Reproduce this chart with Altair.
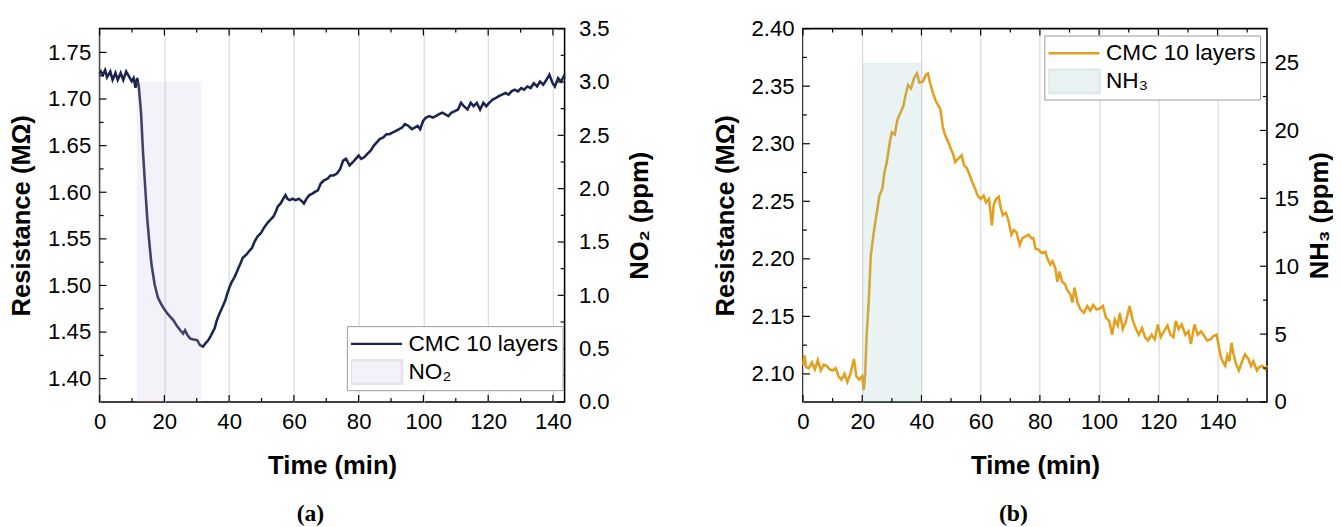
import altair as alt
import pandas as pd

# ---------------- Panel (a): NO2 exposure ----------------
time_a = [0.0, 0.4, 1.0, 1.7, 2.3, 3.3, 4.0, 4.9, 5.6, 6.5, 7.3, 8.2, 9.1, 9.9, 10.5, 11.1, 11.6, 12.1,
          12.8, 13.4, 14.1, 14.7, 15.4, 16.0, 17.0, 18.0, 19.0, 19.9, 20.9, 21.9, 22.8, 23.8, 24.9, 25.8,
          26.4, 27.1, 28.0, 29.0, 30.1, 31.0, 31.9, 32.7, 33.6, 34.2, 34.9, 35.5, 36.2, 36.8, 37.7, 38.8,
          39.4, 40.1, 40.7, 41.6, 42.3, 42.9, 43.6, 44.2, 45.3, 46.2, 47.0, 47.9, 48.8, 49.8, 50.7, 51.8,
          52.7, 53.7, 54.4, 55.0, 55.9, 56.7, 57.4, 58.0, 58.7, 59.6, 60.5, 61.5, 62.6, 63.1, 63.9, 64.8,
          65.7, 66.5, 67.4, 68.3, 69.3, 70.4, 71.3, 72.2, 73.3, 74.3, 75.2, 76.1, 77.2, 78.2, 79.1, 80.0,
          80.8, 81.7, 82.6, 83.7, 84.7, 85.6, 86.5, 87.6, 88.6, 89.5, 90.4, 91.5, 92.5, 93.4, 94.3, 95.4,
          96.4, 97.3, 98.2, 99.0, 99.9, 100.8, 101.9, 102.9, 103.8, 104.7, 105.8, 106.8, 107.7, 108.6,
          109.7, 110.7, 111.6, 112.5, 113.6, 114.6, 115.5, 116.5, 117.5, 118.5, 119.4, 120.3, 121.4,
          122.4, 123.3, 124.3, 125.3, 126.3, 127.2, 128.2, 129.2, 130.2, 131.1, 132.1, 133.1, 134.1,
          135.1, 136.0, 137.0, 138.0, 138.9, 139.9, 140.6, 141.6, 142.5, 143.3, 143.6]
res_a = [1.727, 1.7295, 1.726, 1.731, 1.7235, 1.7295, 1.7205, 1.728, 1.7205, 1.728, 1.7205, 1.7295,
         1.724, 1.719, 1.7225, 1.712, 1.7225, 1.7135,
         1.685, 1.643, 1.604, 1.572, 1.544, 1.523, 1.501, 1.487, 1.480, 1.475, 1.470, 1.466, 1.4626,
         1.457, 1.452, 1.4484, 1.452, 1.4467, 1.443, 1.442, 1.4414, 1.436, 1.4343, 1.438, 1.4414,
         1.445, 1.450, 1.4537, 1.4626, 1.468, 1.475, 1.4838, 1.491, 1.498, 1.503, 1.5085, 1.514,
         1.519, 1.5244, 1.5297, 1.533, 1.537, 1.540, 1.5474, 1.5527, 1.556, 1.5615, 1.567, 1.5704,
         1.574, 1.579, 1.5845, 1.588, 1.593, 1.597, 1.593, 1.5916, 1.593, 1.5916, 1.593, 1.590,
         1.588, 1.593, 1.597, 1.5986, 1.6004, 1.602, 1.6093, 1.6128, 1.6146, 1.618, 1.618, 1.620,
         1.625, 1.634, 1.6358, 1.6287, 1.6322, 1.6358, 1.6393, 1.6358, 1.6375, 1.641, 1.6446, 1.650,
         1.6535, 1.657, 1.6588, 1.6623, 1.6623, 1.664, 1.6658, 1.6676, 1.6694, 1.673, 1.6711,
         1.6676, 1.6694, 1.6711, 1.6676, 1.6764, 1.680, 1.6817, 1.680, 1.6817, 1.6835, 1.6853,
         1.6835, 1.6817, 1.6853, 1.687, 1.6888, 1.6959, 1.6923, 1.6888, 1.6959, 1.6923, 1.6959,
         1.6888, 1.6959, 1.6923, 1.6959, 1.6994, 1.7012, 1.703, 1.7047, 1.7065, 1.7047, 1.7082,
         1.710, 1.7082, 1.7118, 1.710, 1.7135, 1.7118, 1.717, 1.7135, 1.7188, 1.7153, 1.7206,
         1.726, 1.717, 1.7135, 1.7224, 1.7188, 1.724, 1.722]
no2_window = [11.45, 31.4]   # exposure start / end (min)
no2_level = 3.0               # ppm

# ---------------- Panel (b): NH3 exposure ----------------
time_b = [0.0, 0.5, 1.0, 2.0, 3.0, 4.0, 5.0, 6.0, 7.0, 8.0, 9.0, 10.0, 11.0, 12.0, 13.0, 14.0, 15.0,
          16.0, 17.2, 18.0, 19.0, 20.0, 20.5, 21.0, 21.5, 22.2, 22.9, 23.9, 24.8, 25.8, 26.8, 27.5,
          28.3, 29.3, 30.0, 31.0, 31.9, 32.9, 33.9, 34.8, 35.5, 36.5, 37.5, 38.5, 39.3, 40.5, 41.5,
          42.2, 42.9, 43.9, 44.7, 45.7, 46.4, 47.2, 47.9, 48.6, 49.3, 50.0, 50.7, 51.4, 52.4, 53.6,
          54.4, 55.3, 56.1, 57.1, 58.1, 59.0, 60.0, 61.0, 61.8, 62.8, 63.8, 64.4, 65.2, 66.1, 66.8,
          67.5, 68.5, 69.2, 70.4, 71.2, 72.1, 73.2, 74.1, 74.9, 76.1, 77.1, 77.8, 78.5, 79.5, 80.6,
          81.8, 82.6, 83.5, 84.3, 85.2, 85.9, 86.6, 87.5, 88.5, 89.2, 90.3, 91.0, 91.7, 92.7, 93.7,
          94.9, 96.0, 97.0, 98.0, 99.1, 100.3, 101.3, 102.3, 103.4, 104.4, 105.3, 106.3, 107.0,
          108.0, 109.1, 110.3, 111.3, 112.3, 113.4, 114.5, 115.5, 116.5, 117.7, 118.8, 119.8, 120.8,
          121.9, 123.1, 124.1, 125.1, 125.9, 126.9, 127.9, 129.1, 130.2, 131.0, 132.2, 133.3, 134.4,
          135.5, 136.5, 137.6, 138.7, 139.7, 140.5, 141.2, 141.9, 142.6, 143.3, 144.0, 144.7, 145.4,
          146.2, 147.2, 148.3, 149.3, 150.4, 151.3, 152.1, 153.3, 154.1, 155.1, 156.1, 156.7]
res_b = [2.108, 2.116, 2.106, 2.105, 2.110, 2.104, 2.112, 2.103, 2.108, 2.107, 2.104, 2.103, 2.105,
         2.098, 2.095, 2.100, 2.093, 2.100, 2.113, 2.098, 2.095, 2.098, 2.086, 2.100, 2.134, 2.163,
         2.203, 2.223, 2.238, 2.255, 2.261, 2.275, 2.284, 2.301, 2.310, 2.308, 2.321, 2.327, 2.333,
         2.344, 2.351, 2.348, 2.357, 2.361, 2.353, 2.354, 2.360, 2.361, 2.353, 2.344, 2.338, 2.333,
         2.330, 2.315, 2.308, 2.304, 2.300, 2.295, 2.291, 2.284, 2.287, 2.290, 2.281, 2.279, 2.274,
         2.267, 2.261, 2.255, 2.252, 2.255, 2.249, 2.252, 2.229, 2.247, 2.252, 2.254, 2.244, 2.238,
         2.240, 2.235, 2.221, 2.225, 2.223, 2.212, 2.218, 2.219, 2.221, 2.218, 2.218, 2.209, 2.208,
         2.205, 2.206, 2.200, 2.195, 2.198, 2.192, 2.180, 2.189, 2.180, 2.178, 2.173, 2.169, 2.162,
         2.175, 2.162, 2.156, 2.153, 2.159, 2.155, 2.160, 2.156, 2.157, 2.159, 2.149, 2.146, 2.134,
         2.147, 2.142, 2.153, 2.139, 2.146, 2.159, 2.147, 2.140, 2.134, 2.140, 2.132, 2.129, 2.134,
         2.130, 2.143, 2.132, 2.137, 2.142, 2.134, 2.132, 2.146, 2.139, 2.143, 2.134, 2.137, 2.126,
         2.143, 2.134, 2.137, 2.133, 2.129, 2.130, 2.133, 2.134, 2.123, 2.114, 2.110, 2.107, 2.116,
         2.111, 2.127, 2.117, 2.109, 2.103, 2.111, 2.117, 2.113, 2.107, 2.111, 2.103, 2.106, 2.107,
         2.104, 2.107]
nh3_window = [20.1, 40.3]
nh3_level = 25.0

# ---------------- Axis ticks ----------------
x_major = [0, 20, 40, 60, 80, 100, 120, 140]
x_minor_a = [10, 30, 50, 70, 90, 110, 130]
x_minor_b = [10, 30, 50, 70, 90, 110, 130, 150]
ya_major = [1.40, 1.45, 1.50, 1.55, 1.60, 1.65, 1.70, 1.75]
ya_minor = [1.425, 1.475, 1.525, 1.575, 1.625, 1.675, 1.725]
y2a_major = [0.0, 0.5, 1.0, 1.5, 2.0, 2.5, 3.0, 3.5]
y2a_minor = [0.25, 0.75, 1.25, 1.75, 2.25, 2.75, 3.25]
yb_major = [2.10, 2.15, 2.20, 2.25, 2.30, 2.35, 2.40]
yb_minor = [2.125, 2.175, 2.225, 2.275, 2.325, 2.375]
y2b_major = [0, 5, 10, 15, 20, 25]
y2b_minor = [2.5, 7.5, 12.5, 17.5, 22.5]

FONT = "Liberation Sans"
H = 379
MAJ, MIN = 7, 4
SERIES = "CMC 10 layers"


def x_axis():
    return alt.Axis(values=x_major, format="d", title="Time (min)", grid=True,
                    gridColor="#d2d2d2", gridWidth=1, ticks=False, tickSize=0, domain=False,
                    labelPadding=9, titlePadding=20, labelFlush=False, labelOverlap=False)


def ticks(vals, scale, channel, side, length, width):
    df = pd.DataFrame({"v": vals})
    base = alt.Chart(df).mark_rule(color="black", strokeWidth=1.2)
    if channel == "x":
        enc = dict(x=alt.X("v:Q", scale=scale, axis=x_axis()))
        if side == "bottom":
            enc.update(y=alt.value(H), y2=alt.value(H - length))
        else:
            enc.update(y=alt.value(0), y2=alt.value(length))
    else:
        enc = dict(y=alt.Y("v:Q", scale=scale, axis=None))
        if side == "left":
            enc.update(x=alt.value(0), x2=alt.value(length))
        else:
            enc.update(x=alt.value(width), x2=alt.value(width - length))
    return base.encode(**enc)


def panel(time, res, window, level, gas, line_color, shade_color, swatch_color, swatch_edge,
          xdom, x_minor, ydom, y_major, y_minor, y2dom, y2_major, y2_minor, y2fmt, y2title,
          legend_pos, caption, width, right_pad, right_title_pad):
    xs = alt.Scale(domain=xdom, nice=False, zero=False)
    ys = alt.Scale(domain=ydom, nice=False, zero=False)
    y2s = alt.Scale(domain=y2dom, nice=False, zero=False)
    curve = pd.DataFrame({"t": time, "r": res, "series": SERIES})
    expo = pd.DataFrame({"start": [window[0]], "end": [window[1]], "conc": [level], "base": [0.0]})

    # symbols: 52 px wide line / 52x24 px swatch drawn from a small nominal symbol size
    is_line = f"datum.value === '{SERIES}'"
    legend = alt.Legend(
        title=None, orient="none", legendX=legend_pos[0], legendY=legend_pos[1],
        labelFont=FONT, labelFontSize=23, labelColor="black", labelLimit=400,
        symbolSize=484, symbolOffset=13.5, labelOffset=20, clipHeight=28,
        symbolType=alt.ExprRef(f"{is_line} ? 'M-2.36,0H2.36' : 'M-2.36,-1.08H2.36V1.08H-2.36Z'"),
        symbolFillColor=alt.ExprRef(f"{is_line} ? 'transparent' : '{swatch_color}'"),
        symbolStrokeWidth=2.5,
        symbolOpacity=1,
        padding=4, rowPadding=0.5, strokeColor="#9a9a9a", fillColor="white", cornerRadius=0,
    )

    line = alt.Chart(curve).mark_line(strokeWidth=2.6).encode(
        x=alt.X("t:Q", scale=xs, axis=x_axis()),
        y=alt.Y("r:Q", scale=ys, axis=alt.Axis(
            orient="left", values=y_major, format=".2f", title="Resistance (MΩ)", grid=False,
            ticks=False, tickSize=0, domain=False, labelPadding=9, titlePadding=13,
            labelFlush=False, labelOverlap=False)),
        color=alt.Color("series:N", scale=alt.Scale(domain=[SERIES, gas],
                                                    range=[line_color, swatch_edge]),
                        legend=legend),
    )
    shade = alt.Chart(expo).mark_rect(color=shade_color, opacity=0.2).encode(
        x=alt.X("start:Q", scale=xs, axis=x_axis()),
        x2="end:Q",
        y=alt.Y("conc:Q", scale=y2s, axis=alt.Axis(
            orient="right", values=y2_major, format=y2fmt, title=y2title, grid=False,
            ticks=False, tickSize=0, domain=False, labelPadding=right_pad,
            titlePadding=right_title_pad, titleAngle=270, titleBaseline="top",
            labelFlush=False, labelOverlap=False)),
        y2="base:Q",
    )
    layers = [
        line, shade,
        ticks(x_major, xs, "x", "bottom", MAJ, width),
        ticks(x_major, xs, "x", "top", MAJ, width),
        ticks(x_minor, xs, "x", "bottom", MIN, width),
        ticks(x_minor, xs, "x", "top", MIN, width),
        ticks(y_major, ys, "y", "left", MAJ, width),
        ticks(y_minor, ys, "y", "left", MIN, width),
        ticks(y2_major, y2s, "y", "right", MAJ, width),
        ticks(y2_minor, y2s, "y", "right", MIN, width),
    ]
    return alt.layer(*layers).resolve_scale(y="independent").properties(
        width=width, height=H,
        title=alt.TitleParams(caption, orient="bottom", font="Liberation Serif", fontSize=24,
                              fontWeight="bold", color="black", anchor="middle", frame="group",
                              offset=24, dx=-22),
    )


panel_a = panel(time_a, res_a, no2_window, no2_level, "NO₂", "#1b2550", "#c9b8e0", "#f4f1f8",
                "#e6e1ee", [0, 143.6], x_minor_a, [1.375, 1.7755], ya_major, ya_minor,
                [0, 3.5], y2a_major, y2a_minor, ".1f", "NO₂ (ppm)", [251, 302],
                "(a)", 472, 14, 18)
panel_b = panel(time_b, res_b, nh3_window, nh3_level, "NH₃", "#e3a020", "#93c4c4", "#eaf3f3",
                "#dde8e8", [0, 156.7], x_minor_b, [2.0756, 2.40], yb_major, yb_minor,
                [0, 27.5], y2b_major, y2b_minor, "d", "NH₃ (ppm)", [245, 7],
                "(b)", 471, 7, 8)

chart = alt.hconcat(panel_a, panel_b, spacing=58).resolve_scale(color="independent").properties(
    padding={"left": 0, "top": 5, "right": 0, "bottom": 0}
).configure_view(stroke="black", strokeWidth=1.6).configure_axis(
    labelFont=FONT, labelFontSize=22.5, labelColor="black",
    titleFont=FONT, titleFontSize=26, titleFontWeight="bold", titleColor="black",
)

chart.save("out.html", embed_options={"renderer": "svg", "actions": False})
